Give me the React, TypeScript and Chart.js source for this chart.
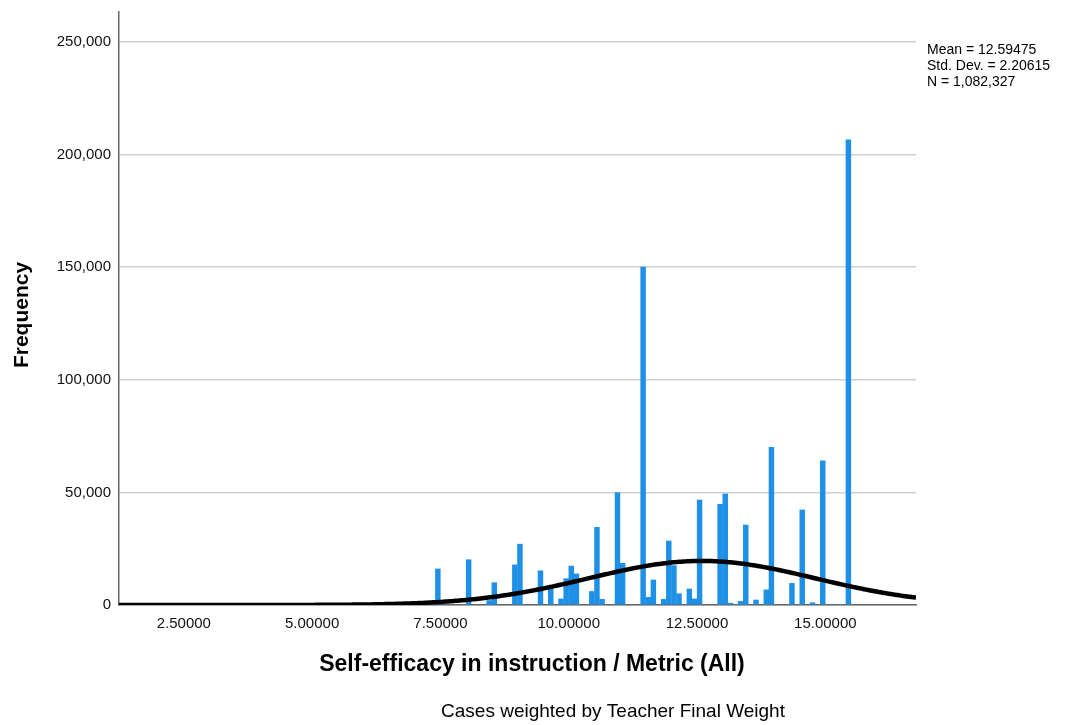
import React, { useEffect, useRef } from "react";
import { Chart, registerables } from "chart.js";

Chart.register(...registerables);

// ---- Data (bin centres, bin width 0.1) ----
const binCenters = [
  7.45, 8.05, 8.45, 8.55, 8.95, 9.05, 9.45, 9.65, 9.85, 9.95,
  10.05, 10.15, 10.45, 10.55, 10.65, 10.95, 11.05, 11.45, 11.55, 11.65,
  11.85, 11.95, 12.05, 12.15, 12.35, 12.45, 12.55, 12.95, 13.05, 13.15,
  13.35, 13.45, 13.65, 13.85, 13.95, 14.35, 14.55, 14.75, 14.95, 15.15, 15.45,
];
const frequencies = [
  16000, 20100, 2000, 9900, 17800, 27000, 15200, 8000, 2700, 11700,
  17300, 13800, 6000, 34500, 2500, 49900, 18500, 150000, 3400, 11100,
  2500, 28400, 17500, 5000, 7100, 2700, 46600, 44700, 49300, 800,
  1600, 35500, 2200, 6700, 70000, 9600, 42200, 1000, 64000, 300, 206500,
];

const xTickValues = [2.5, 5, 7.5, 10, 12.5, 15];
const yTickValues = [0, 50000, 100000, 150000, 200000, 250000];

const statMean = 12.59475;
const statSd = 2.20615;
const statN = 1082327;
const binWidth = 0.1;
const statsLines = ["Mean = 12.59475", "Std. Dev. = 2.20615", "N = 1,082,327"];

const xTitle = "Self-efficacy in instruction / Metric (All)";
const yTitle = "Frequency";
const footnote = "Cases weighted by Teacher Final Weight";

const xMin = 1.237;
const xMax = 16.767;
const yMax = 263300;

// Normal curve defined by the stated mean, std. dev. and N
const curveXs: number[] = [];
for (let x = xMin; x <= xMax + 1e-9; x += 0.04) curveXs.push(x);
curveXs.push(xMax);
const curvePoints = curveXs.map((x) => ({
  x,
  y:
    ((statN * binWidth) / (statSd * Math.sqrt(2 * Math.PI))) *
    Math.exp(-((x - statMean) ** 2) / (2 * statSd * statSd)),
}));

const FONT = '"Liberation Sans", Arial, Helvetica, sans-serif';

const textPlugin = {
  id: "spssTexts",
  afterDraw(chart: any) {
    const ctx = chart.ctx as CanvasRenderingContext2D;
    ctx.save();
    ctx.fillStyle = "#000";
    ctx.textAlign = "center";
    ctx.textBaseline = "middle";
    ctx.font = `bold 23px ${FONT}`;
    ctx.fillText(xTitle, 532, 665);
    ctx.save();
    ctx.translate(22, 315);
    ctx.rotate(-Math.PI / 2);
    ctx.font = `bold 21px ${FONT}`;
    ctx.fillText(yTitle, 0, 0);
    ctx.restore();
    ctx.font = `19px ${FONT}`;
    ctx.fillText(footnote, 613, 712);
    ctx.font = `14px ${FONT}`;
    ctx.textAlign = "left";
    statsLines.forEach((line, i) => ctx.fillText(line, 927, 50 + i * 16));
    ctx.restore();
  },
};

export default function App() {
  const ref = useRef<HTMLCanvasElement>(null);
  useEffect(() => {
    if (!ref.current) return;
    const chart = new Chart(ref.current, {
      type: "bar",
      data: {
        datasets: [
          {
            type: "line",
            data: curvePoints,
            borderColor: "#000",
            borderWidth: 4.5,
            pointRadius: 0,
            tension: 0,
            order: 0,
          } as any,
          {
            type: "bar",
            data: binCenters.map((x, i) => ({ x, y: frequencies[i] })),
            backgroundColor: "rgb(30,144,229)",
            borderWidth: 0,
            barThickness: 4.8,
            order: 1,
          } as any,
        ],
      },
      options: {
        responsive: false,
        animation: false,
        events: [],
        layout: { padding: { left: 0, top: 12, right: 154, bottom: 0 } },
        plugins: { legend: { display: false }, tooltip: { enabled: false } },
        scales: {
          x: {
            type: "linear",
            min: xMin,
            max: xMax,
            offset: false,
            afterFit: (s: any) => {
              s.height = 120;
              s.paddingLeft = 0;
              s.paddingRight = 0;
            },
            afterBuildTicks: (s: any) => {
              s.ticks = xTickValues.map((v) => ({ value: v }));
            },
            grid: { display: false, drawTicks: false },
            border: { display: true, color: "#666", width: 1.5 },
            ticks: {
              padding: 10,
              color: "#111",
              font: { family: FONT, size: 15 },
              maxRotation: 0,
              autoSkip: false,
              callback: (v: any) => Number(v).toFixed(5),
            },
          },
          y: {
            type: "linear",
            min: 0,
            max: yMax,
            afterFit: (s: any) => {
              s.width = 119;
              s.paddingTop = 0;
              s.paddingBottom = 0;
            },
            afterBuildTicks: (s: any) => {
              s.ticks = yTickValues.map((v) => ({ value: v }));
            },
            grid: { color: "#d0d0d0", lineWidth: 1.5, drawTicks: false },
            border: { display: true, color: "#666", width: 1.5 },
            ticks: {
              padding: 8,
              color: "#111",
              font: { family: FONT, size: 15 },
              callback: (v: any) => Number(v).toLocaleString("en-US"),
            },
          },
        },
      },
      plugins: [textPlugin],
    });
    return () => chart.destroy();
  }, []);
  return (
    <div style={{ position: "fixed", left: 0, top: 0, width: 1070, height: 725, background: "#fff" }}>
      <canvas ref={ref} width={1070} height={725} style={{ display: "block" }} />
    </div>
  );
}
